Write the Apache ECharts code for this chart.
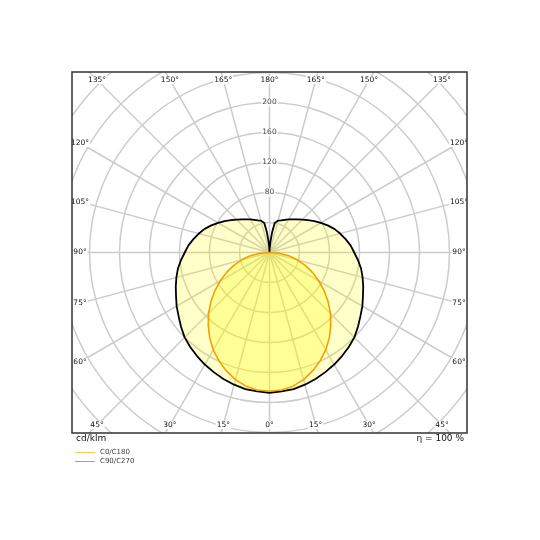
<!DOCTYPE html>
<html>
<head>
<meta charset="utf-8">
<script src="https://cdn.jsdelivr.net/npm/echarts@6/dist/echarts.min.js"></script>
<style>
  html, body { margin: 0; padding: 0; background: #fff; }
  #chart { width: 540px; height: 540px; }
</style>
</head>
<body>
<div id="chart"></div>
<script>
// gamma angles (0 = straight down, 180 = straight up), values in cd/klm
var c90Gamma = [0, 5, 10, 15, 20, 25, 30, 35, 40, 45, 50, 55, 60, 65, 70, 75, 80, 85, 90,
                95, 100, 105, 110, 115, 120, 125, 130, 135, 140, 145, 150, 155, 160, 165,
                170, 172.5, 175, 177.5, 180];
var c90Values = [187, 186, 185, 182.5, 179.5, 176, 172.5, 168.5, 164.5, 160, 154, 148, 143,
                 137.5, 133, 128.5, 124, 118.5, 113, 108.5, 103, 97.5, 92, 85.5, 79, 73, 67, 62,
                 57.5, 54, 51, 48, 45.5, 44, 40, 28, 15, 6, 0];

var c0Gamma = [0, 5, 10, 15, 20, 25, 30, 35, 40, 45, 50, 55, 60, 65, 70, 75, 80, 85, 90];
var c0Values = [185, 184, 181, 175.5, 168, 159.5, 150, 139, 127, 115, 102, 89, 76, 63.5,
                51, 39, 27, 14, 0];

var ringLabels = [80, 120, 160, 200];
var spokeAngles = [0, 15, 30, 45, 60, 75, 90, 105, 120, 135, 150, 165, 180];

var cx = 269.5, cy = 252.5;
var box = { x: 72, y: 72, w: 395, h: 361 };
var inset = 8;

// right half: angle 0..180 (top -> bottom), left half: 180..360
function toPolar(gammas, vals) {
    var out = [];
    for (var i = gammas.length - 1; i >= 0; i--) out.push([vals[i], 180 - gammas[i]]);
    for (var j = 1; j < gammas.length; j++) out.push([vals[j], 180 + gammas[j]]);
    return out;
}

function angleLabels() {
    var hx = box.w / 2 - inset, hy = box.h / 2 - inset;
    var items = [];
    spokeAngles.forEach(function (g) {
        var sides = (g === 0 || g === 180) ? [1] : [-1, 1];
        sides.forEach(function (s) {
            var rad = g * Math.PI / 180;
            var dx = s * Math.sin(rad), dy = Math.cos(rad);
            var tx = Math.abs(dx) > 1e-6 ? hx / Math.abs(dx) : Infinity;
            var ty = Math.abs(dy) > 1e-6 ? hy / Math.abs(dy) : Infinity;
            var t = Math.min(tx, ty);
            items.push({
                type: 'text', z: 50,
                x: cx + dx * t, y: cy + dy * t,
                style: {
                    text: g + '°', fill: '#111', font: '7.5px "DejaVu Sans"',
                    align: 'center', verticalAlign: 'middle',
                    backgroundColor: '#fff', padding: [0, 1]
                }
            });
        });
    });
    return items;
}

var chart = echarts.init(document.getElementById('chart'));

var graphics = angleLabels().concat([
    { type: 'rect', z: 100, shape: { x: 0, y: 0, width: 540, height: box.y }, style: { fill: '#fff' } },
    { type: 'rect', z: 100, shape: { x: 0, y: box.y + box.h, width: 540, height: 540 }, style: { fill: '#fff' } },
    { type: 'rect', z: 100, shape: { x: 0, y: 0, width: box.x, height: 540 }, style: { fill: '#fff' } },
    { type: 'rect', z: 100, shape: { x: box.x + box.w, y: 0, width: 540, height: 540 }, style: { fill: '#fff' } },
    { type: 'rect', z: 101, shape: { x: box.x, y: box.y, width: box.w, height: box.h },
      style: { fill: 'none', stroke: '#333', lineWidth: 1.5 } },
    { type: 'text', z: 102, x: 76, y: 439,
      style: { text: 'cd/klm', fill: '#111', font: '9px "DejaVu Sans"', verticalAlign: 'middle' } },
    { type: 'text', z: 102, x: 464, y: 439,
      style: { text: 'η = 100 %', fill: '#111', font: '9px "DejaVu Sans"', align: 'right', verticalAlign: 'middle' } }
]);

var option = {
    backgroundColor: '#fff',
    animation: false,
    polar: { center: [cx, cy], radius: 270 },
    angleAxis: {
        type: 'value', min: 0, max: 360, interval: 15,
        startAngle: 90, clockwise: true,
        axisLine: { show: false }, axisTick: { show: false }, axisLabel: { show: false },
        splitLine: { show: true, lineStyle: { color: '#cccccc', width: 1.5 } }
    },
    radiusAxis: {
        type: 'value', min: 0, max: 360, interval: 40,
        axisLine: { show: false }, axisTick: { show: false }, axisLabel: { show: false },
        splitLine: { show: true, lineStyle: { color: '#cccccc', width: 1.5 } }
    },
    legend: {
        orient: 'vertical', left: 75, top: 448, z: 200, padding: 0,
        itemWidth: 20, itemHeight: 1, itemGap: 0, icon: 'rect',
        textStyle: { fontSize: 7, color: '#444', fontFamily: 'DejaVu Sans', lineHeight: 9 },
        data: [
            { name: 'C0/C180', itemStyle: { color: '#ffc65c' } },
            { name: 'C90/C270', itemStyle: { color: '#9aa4a8' } }
        ]
    },
    series: [
        {
            name: 'C90/C270', type: 'line', coordinateSystem: 'polar',
            showSymbol: false, smooth: false, z: 3,
            lineStyle: { color: '#000', width: 1.8 },
            itemStyle: { color: '#000' },
            areaStyle: { color: 'rgba(255,255,0,0.3)' },
            data: toPolar(c90Gamma, c90Values)
        },
        {
            name: 'C0/C180', type: 'line', coordinateSystem: 'polar',
            showSymbol: false, smooth: false, z: 4,
            lineStyle: { color: '#f5a000', width: 1.6 },
            itemStyle: { color: '#f5a000' },
            areaStyle: { color: 'rgba(255,255,0,0.36)' },
            data: toPolar(c0Gamma, c0Values)
        },
        {
            type: 'scatter', coordinateSystem: 'polar', symbolSize: 0, z: 5,
            silent: true,
            label: {
                show: true, position: 'inside', formatter: function (p) { return p.value[0]; },
                fontSize: 7.5, fontFamily: 'DejaVu Sans', color: '#111',
                backgroundColor: '#fff', padding: [0, 1]
            },
            data: ringLabels.map(function (v) { return [v, 0]; })
        }
    ],
    graphic: graphics
};

chart.setOption(option);
</script>
</body>
</html>
